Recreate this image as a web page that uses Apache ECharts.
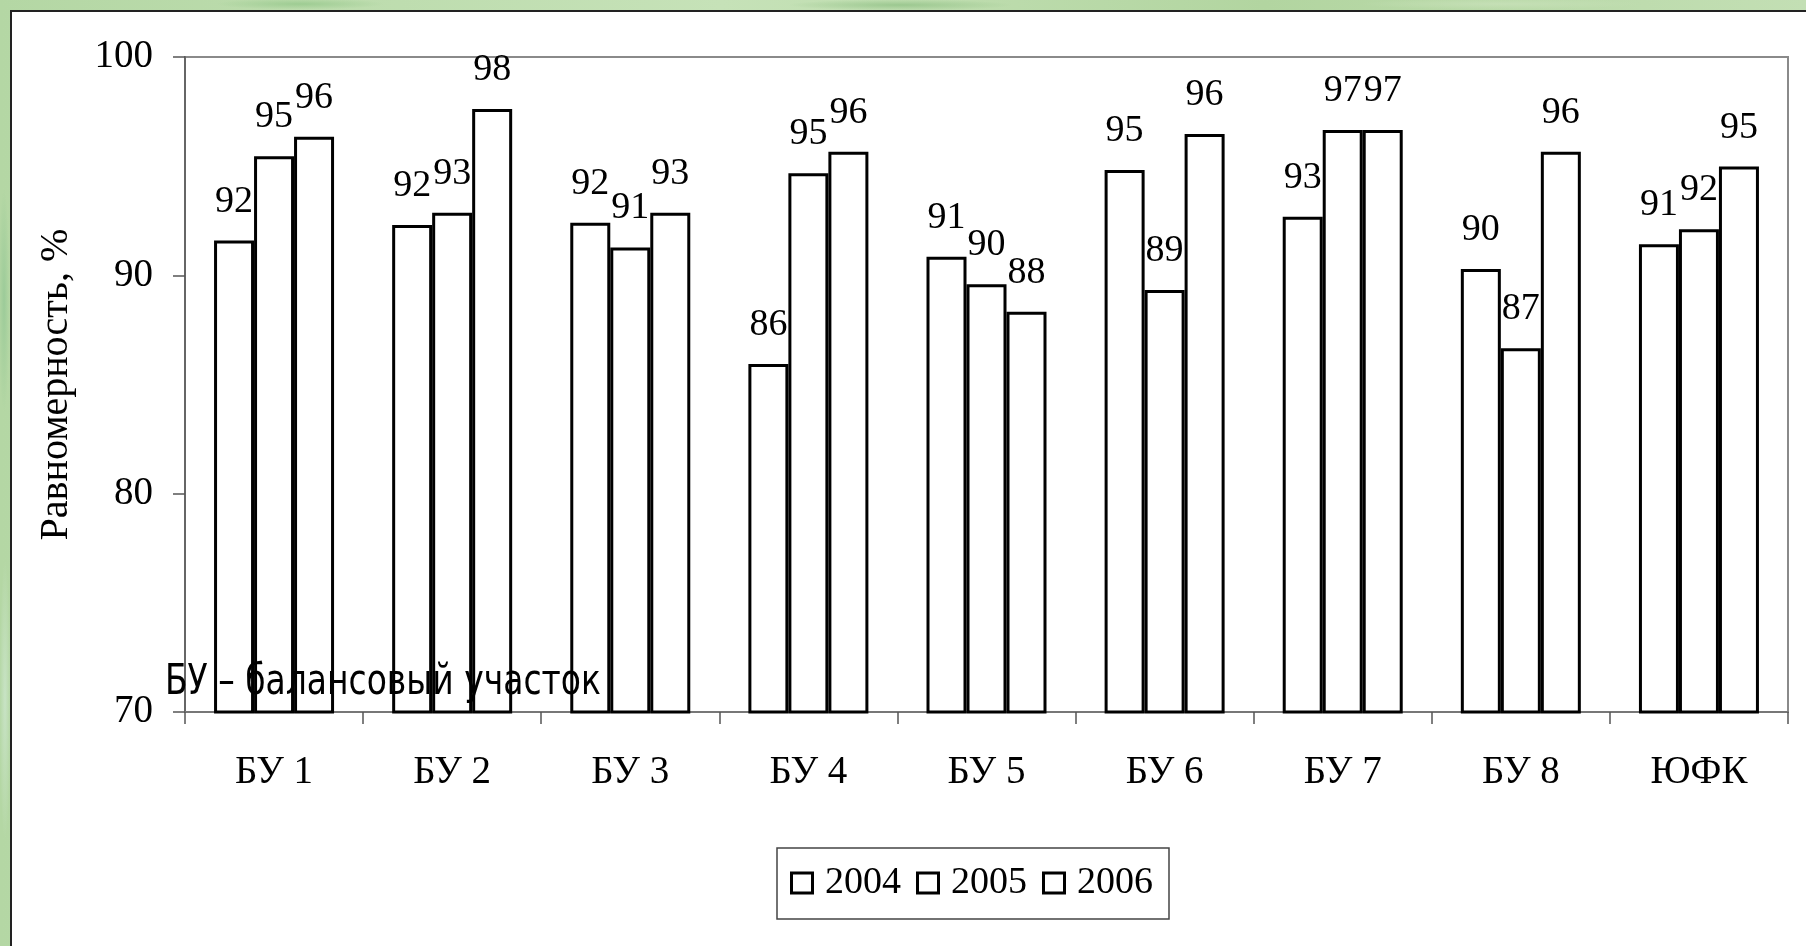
<!DOCTYPE html>
<html>
<head>
<meta charset="utf-8">
<script src="https://cdn.jsdelivr.net/npm/echarts@6/dist/echarts.min.js"></script>
<style>
  html, body { margin: 0; padding: 0; }
  body {
    width: 1806px; height: 946px; overflow: hidden; position: relative;
    background:
      radial-gradient(ellipse 120px 8px at 300px 4px, rgba(150,200,140,0.8), rgba(150,200,140,0) 70%),
      radial-gradient(ellipse 160px 8px at 900px 5px, rgba(140,190,130,0.7), rgba(140,190,130,0) 70%),
      radial-gradient(ellipse 200px 8px at 1500px 4px, rgba(200,225,185,0.8), rgba(200,225,185,0) 70%),
      radial-gradient(ellipse 8px 160px at 4px 300px, rgba(150,200,150,0.8), rgba(150,200,150,0) 70%),
      radial-gradient(ellipse 8px 200px at 5px 700px, rgba(205,230,205,0.8), rgba(205,230,205,0) 70%),
      linear-gradient(90deg, #b4d7a4, #c6e2b8 40%, #b2d5a0 70%, #c3dfb4);
  }
  #panel {
    position: absolute; left: 10px; top: 10px; right: 0; bottom: 0;
    background: #ffffff; border-left: 2px solid #222; border-top: 2px solid #222;
  }
  #chart { position: absolute; left: 0; top: 0; width: 1806px; height: 946px; }
</style>
</head>
<body>
<div id="panel"></div>
<div id="chart"></div>
<script>
// Balance sections along the category axis
const categories = ['БУ 1', 'БУ 2', 'БУ 3', 'БУ 4', 'БУ 5', 'БУ 6', 'БУ 7', 'БУ 8', 'ЮФК'];
const years = ['2004', '2005', '2006'];

// Uniformity, % per year
const values2004 = [91.59, 92.30, 92.41, 85.94, 90.85, 94.82, 92.68, 90.29, 91.42];
const values2005 = [95.45, 92.87, 91.28, 94.67, 89.59, 89.33, 96.66, 86.66, 92.11];
const values2006 = [96.35, 97.62, 92.87, 95.66, 88.33, 96.47, 96.66, 95.66, 94.98];

const yTicks = { min: 70, max: 100, interval: 10 };

const serif = '"Liberation Serif", "Times New Roman", serif';
const fs = 38;

// Hollow square legend marker (outer square with an inner hole)
const hollowSquare = 'path://M0,0H24V23H0Z M3,3V20H21V3Z';

function barSeries(name, data) {
  return {
    name: name,
    type: 'bar',
    data: data,
    barWidth: 40,
    barGap: '0%',
    itemStyle: { color: '#ffffff', borderColor: '#000000', borderWidth: 3 },
    label: {
      show: true,
      position: 'top',
      distance: 20,
      color: '#000',
      fontFamily: serif,
      fontSize: fs,
      formatter: p => Math.round(p.value).toString()
    },
    emphasis: { disabled: true }
  };
}

const chart = echarts.init(document.getElementById('chart'), null, { renderer: 'canvas' });
chart.setOption({
  backgroundColor: 'transparent',
  animation: false,
  grid: {
    left: 185, right: 18, top: 57, bottom: 234,
    show: true, borderColor: '#8a8a8a', borderWidth: 2, backgroundColor: 'transparent'
  },
  legend: {
    data: years,
    left: 777, top: 848,
    orient: 'horizontal',
    icon: hollowSquare,
    itemWidth: 24, itemHeight: 23, itemGap: 15,
    padding: [16, 16, 17, 13],
    borderColor: '#444', borderWidth: 1.5,
    backgroundColor: '#fff',
    itemStyle: { color: '#000', borderWidth: 0 },
    textStyle: { fontFamily: serif, fontSize: fs, color: '#000', padding: [0, 0, 0, 6] },
    selectedMode: false
  },
  xAxis: {
    type: 'category',
    data: categories,
    axisLine: { lineStyle: { color: '#777', width: 2 } },
    axisTick: { show: true, length: 12, lineStyle: { color: '#555', width: 1.5 } },
    axisLabel: { color: '#000', fontFamily: serif, fontSize: 39, margin: 41 }
  },
  yAxis: {
    type: 'value',
    min: yTicks.min, max: yTicks.max, interval: yTicks.interval,
    name: 'Равномерность, %',
    nameLocation: 'middle',
    nameGap: 109,
    nameRotate: 90,
    nameTextStyle: { color: '#000', fontFamily: serif, fontSize: 40 },
    splitLine: { show: false },
    axisLine: { show: true, lineStyle: { color: '#666', width: 2 } },
    axisTick: { show: true, length: 12, lineStyle: { color: '#555', width: 1.5 } },
    axisLabel: { color: '#000', fontFamily: serif, fontSize: 39, margin: 32 }
  },
  graphic: [{
    type: 'text',
    x: 165, y: 662,
    scaleX: 0.785,
    z: 100,
    style: {
      text: 'БУ – балансовый участок',
      font: '42px "DejaVu Sans", Tahoma, sans-serif',
      fill: '#000',
      verticalAlign: 'top'
    }
  }],
  series: [
    barSeries(years[0], values2004),
    barSeries(years[1], values2005),
    barSeries(years[2], values2006)
  ]
});
</script>
</body>
</html>
